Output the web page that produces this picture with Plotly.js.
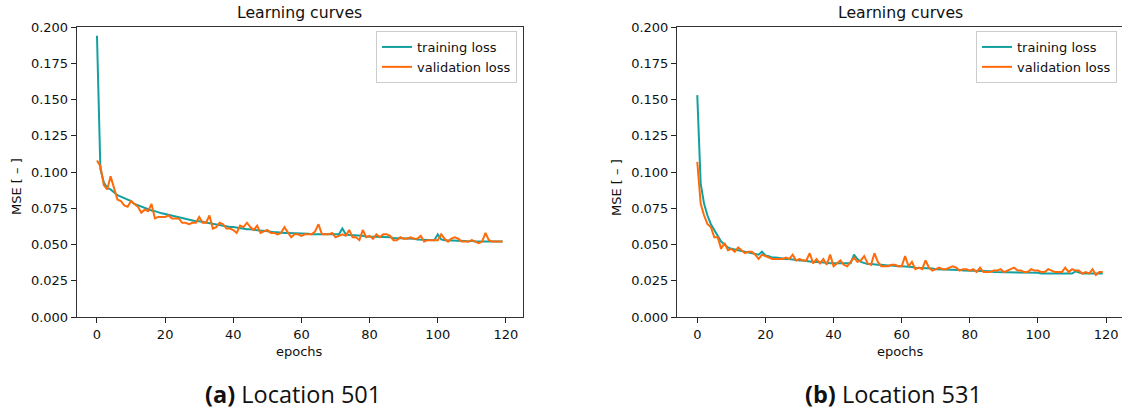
<!DOCTYPE html>
<html>
<head>
<meta charset="utf-8">
<script src="https://cdn.plot.ly/plotly-3.0.1.min.js"></script>
<style>
html,body{margin:0;padding:0;overflow:hidden;background:#fff;width:1122px;height:412px;}
#chart{width:1126px;height:412px;}
</style>
</head>
<body>
<div id="chart"></div>
<script>
// ---- data ----
const epochs = Array.from({length:120}, (_, i) => i);

const trainA = [0.194,0.102,0.093,0.089,0.088,0.086,0.084,0.083,0.082,0.081,
0.080,0.078,0.077,0.076,0.075,0.074,0.0735,0.073,0.072,0.0715,
0.071,0.0705,0.070,0.069,0.0685,0.068,0.0675,0.067,0.0665,0.066,
0.066,0.0655,0.065,0.0645,0.064,0.064,0.0635,0.063,0.0625,0.062,
0.062,0.0615,0.061,0.061,0.0605,0.0605,0.060,0.060,0.0595,0.0595,
0.059,0.059,0.0585,0.0585,0.058,0.058,0.058,0.058,0.0575,0.0575,
0.0575,0.0575,0.0575,0.057,0.057,0.057,0.057,0.057,0.057,0.057,
0.0565,0.057,0.061,0.057,0.0565,0.0565,0.056,0.056,0.056,0.0555,
0.0555,0.0555,0.0555,0.055,0.055,0.055,0.055,0.0545,0.0545,0.0545,
0.054,0.054,0.054,0.054,0.0535,0.0535,0.0535,0.0535,0.053,0.053,
0.057,0.0535,0.053,0.053,0.0525,0.0525,0.0525,0.0525,0.0525,0.052,
0.0525,0.052,0.052,0.052,0.052,0.052,0.052,0.052,0.052,0.052];

const valA = [0.108,0.104,0.091,0.088,0.097,0.089,0.081,0.080,0.077,0.076,
0.080,0.078,0.076,0.072,0.074,0.073,0.078,0.068,0.069,0.069,
0.069,0.070,0.068,0.068,0.068,0.065,0.065,0.064,0.065,0.065,
0.069,0.065,0.065,0.070,0.061,0.062,0.065,0.064,0.061,0.061,
0.060,0.058,0.063,0.062,0.065,0.062,0.060,0.063,0.058,0.059,
0.060,0.058,0.058,0.057,0.058,0.062,0.058,0.055,0.057,0.057,
0.056,0.057,0.057,0.057,0.059,0.064,0.057,0.057,0.057,0.058,
0.055,0.056,0.057,0.056,0.060,0.055,0.055,0.053,0.060,0.055,
0.056,0.054,0.057,0.055,0.057,0.057,0.056,0.053,0.053,0.055,
0.054,0.054,0.055,0.054,0.054,0.056,0.052,0.053,0.053,0.053,
0.053,0.057,0.054,0.052,0.054,0.055,0.054,0.052,0.052,0.052,
0.053,0.052,0.051,0.052,0.058,0.053,0.052,0.052,0.052,0.052];

const trainB = [0.153,0.092,0.078,0.070,0.064,0.060,0.056,0.052,0.050,0.048,
0.047,0.0465,0.046,0.0455,0.045,0.0445,0.044,0.0435,0.043,0.045,
0.0425,0.042,0.041,0.041,0.0405,0.040,0.040,0.040,0.0395,0.0395,
0.039,0.039,0.0385,0.0385,0.038,0.038,0.038,0.0375,0.0375,0.037,
0.037,0.037,0.037,0.037,0.0365,0.037,0.043,0.040,0.038,0.037,
0.0365,0.0365,0.036,0.036,0.036,0.0355,0.0355,0.0355,0.035,0.035,
0.035,0.035,0.0345,0.0345,0.034,0.034,0.034,0.034,0.0335,0.0335,
0.033,0.033,0.033,0.033,0.033,0.0325,0.0325,0.0325,0.032,0.032,
0.032,0.032,0.032,0.0315,0.0315,0.0315,0.0315,0.031,0.031,0.031,
0.031,0.031,0.031,0.031,0.0305,0.0305,0.0305,0.0305,0.0305,0.0305,
0.0305,0.030,0.030,0.030,0.030,0.030,0.030,0.030,0.030,0.030,
0.030,0.0315,0.0305,0.030,0.030,0.030,0.0295,0.030,0.0295,0.030];

const valB = [0.107,0.078,0.070,0.064,0.062,0.055,0.055,0.047,0.051,0.046,
0.047,0.045,0.048,0.046,0.044,0.045,0.045,0.043,0.040,0.043,
0.042,0.041,0.040,0.040,0.040,0.040,0.041,0.040,0.043,0.039,
0.040,0.039,0.039,0.044,0.037,0.040,0.037,0.040,0.036,0.043,
0.035,0.037,0.039,0.036,0.035,0.038,0.041,0.038,0.039,0.042,
0.037,0.036,0.044,0.038,0.035,0.035,0.035,0.036,0.036,0.035,
0.035,0.042,0.035,0.038,0.033,0.034,0.033,0.039,0.034,0.032,
0.033,0.034,0.033,0.033,0.034,0.035,0.034,0.032,0.033,0.033,
0.032,0.033,0.031,0.034,0.031,0.031,0.031,0.032,0.032,0.033,
0.031,0.032,0.033,0.034,0.032,0.032,0.031,0.031,0.033,0.032,
0.032,0.031,0.031,0.033,0.032,0.031,0.031,0.031,0.034,0.031,
0.033,0.032,0.032,0.030,0.031,0.030,0.033,0.029,0.031,0.031];

const seriesNames = ['training loss', 'validation loss'];
const plotTitle = 'Learning curves';
const xLabel = 'epochs';
const yLabel = 'MSE [ \u2013 ]';
const captions = ['<b>(a)</b> Location 501', '<b>(b)</b> Location 531'];
const xTicks = [0, 20, 40, 60, 80, 100, 120];

// ---- styling / layout ----
const W = 1126, H = 412;
const teal = '#13a0a0', orange = '#ff6a0a';
const font = 'DejaVu Sans, sans-serif';
const px = x => x / W;
const py = y => (H - y) / H;

const xd1 = [px(76.7), px(522.8)];
const xd2 = [px(677), px(1123)];
const yd = [py(317), py(27)];

function tr(y, name, color, xa, ya, leg, show) {
  return {x: epochs, y: y, name: name, type: 'scatter', mode: 'lines',
    line: {color: color, width: 2}, xaxis: xa, yaxis: ya, legend: leg, showlegend: show};
}

const data = [
  tr(trainA, seriesNames[0], teal, 'x', 'y', 'legend', true),
  tr(valA, seriesNames[1], orange, 'x', 'y', 'legend', true),
  tr(trainB, seriesNames[0], teal, 'x2', 'y2', 'legend2', true),
  tr(valB, seriesNames[1], orange, 'x2', 'y2', 'legend2', true)
];

function xax(dom, anchor) {
  return {domain: dom, anchor: anchor, range: [-5.95, 124.95], tickvals: xTicks,
    ticks: 'outside', ticklen: 5, tickwidth: 1, tickcolor: '#222',
    showline: true, mirror: true, linecolor: '#333', linewidth: 1,
    showgrid: false, zeroline: false, tickfont: {family: font, size: 13, color: '#111'}};
}
function yax(anchor) {
  return {domain: yd, anchor: anchor, range: [0, 0.2], dtick: 0.025, tick0: 0, tickformat: '.3f',
    ticks: 'outside', ticklen: 5, tickwidth: 1, tickcolor: '#222',
    showline: true, mirror: true, linecolor: '#333', linewidth: 1,
    showgrid: false, zeroline: false, tickfont: {family: font, size: 13, color: '#111'}};
}

function legend(xr) {
  return {x: xr, y: py(31), xanchor: 'right', yanchor: 'top', bgcolor: 'rgba(255,255,255,0.8)',
    bordercolor: '#cccccc', borderwidth: 1, font: {family: font, size: 13, color: '#111'},
    itemwidth: 30, tracegroupgap: 0};
}

const ann = [];
function addAnn(text, x, y, size, angle, fam) {
  ann.push({text: text, x: x, y: y, xref: 'paper', yref: 'paper', showarrow: false,
    xanchor: 'center', yanchor: 'middle', textangle: angle || 0,
    font: {family: fam || font, size: size, color: '#111'}});
}
[[xd1, 0, 16, 293], [xd2, 1, 616, 893]].forEach(([d, i, ylx, capx]) => {
  const cx = (d[0] + d[1]) / 2;
  addAnn(plotTitle, cx, py(13), 15.7);
  addAnn(xLabel, cx, py(351), 13);
  addAnn(yLabel, px(ylx), py(187), 13, -90);
  addAnn(captions[i], px(capx), py(394), 23.5, 0, 'Open Sans, DejaVu Sans, sans-serif');
});

const layout = {
  width: W, height: H, margin: {l: 0, r: 0, t: 0, b: 0},
  paper_bgcolor: '#fff', plot_bgcolor: '#fff',
  xaxis: xax(xd1, 'y'), yaxis: yax('x'),
  xaxis2: xax(xd2, 'y2'), yaxis2: yax('x2'),
  legend: legend(px(517)), legend2: legend(px(1117)),
  annotations: ann
};

Plotly.newPlot('chart', data, layout, {staticPlot: true, displayModeBar: false});
</script>
</body>
</html>
